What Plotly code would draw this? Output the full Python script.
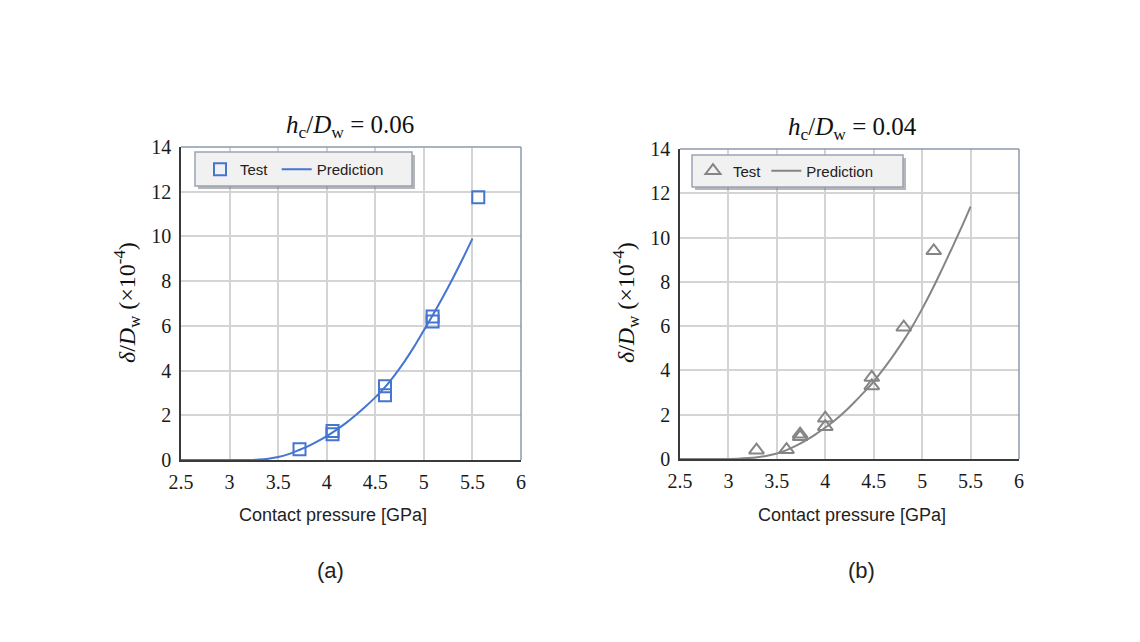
import plotly.graph_objects as go

# ---------------- data ----------------
# (a) h_c/D_w = 0.06
test_a_x = [3.72, 4.06, 4.06, 4.60, 4.60, 5.09, 5.09, 5.56]
test_a_y = [0.48, 1.15, 1.30, 2.90, 3.30, 6.20, 6.42, 11.75]
pred_a_x = [2.5, 2.6, 2.7, 2.8, 2.9, 3.0, 3.1, 3.2, 3.3, 3.4, 3.5, 3.6, 3.7, 3.8, 3.9,
            4.0, 4.1, 4.2, 4.3, 4.4, 4.5, 4.6, 4.7, 4.8, 4.9, 5.0, 5.1, 5.2, 5.3, 5.4, 5.5]
pred_a_y = [0, 0, 0, 0, 0, 0, 0, 0.0, 0.02, 0.06, 0.13, 0.25, 0.42, 0.60, 0.82,
            1.07, 1.35, 1.66, 2.01, 2.39, 2.80, 3.26, 3.80, 4.40, 5.07, 5.80, 6.54, 7.32, 8.14, 9.00, 9.90]

# (b) h_c/D_w = 0.04
test_b_x = [3.29, 3.60, 3.74, 3.74, 4.00, 4.00, 4.48, 4.48, 4.81, 5.12]
test_b_y = [0.40, 0.42, 1.00, 1.12, 1.46, 1.84, 3.30, 3.68, 5.95, 9.40]
pred_b_x = [2.5, 2.6, 2.7, 2.8, 2.9, 3.0, 3.1, 3.2, 3.3, 3.4, 3.5, 3.6, 3.7, 3.8, 3.9,
            4.0, 4.1, 4.2, 4.3, 4.4, 4.5, 4.6, 4.7, 4.8, 4.9, 5.0, 5.1, 5.2, 5.3, 5.4, 5.5]
pred_b_y = [0, 0, 0, 0, 0, 0.005, 0.015, 0.04, 0.08, 0.15, 0.25, 0.40, 0.60, 0.84, 1.11,
            1.42, 1.75, 2.13, 2.56, 3.02, 3.50, 4.06, 4.66, 5.30, 6.00, 6.78, 7.62, 8.52, 9.45, 10.40, 11.40]

x_ticks = [2.5, 3, 3.5, 4, 4.5, 5, 5.5, 6]
y_ticks = [0, 2, 4, 6, 8, 10, 12, 14]

BLUE = "#4475d0"
GRAY = "#858585"
W, H = 1140, 642
OFF = 8  # page body margin offset

def px(x):
    return (x - OFF) / W

def py(y):
    return 1 - (y - OFF) / H

fig = go.Figure()

fig.add_trace(go.Scatter(x=test_a_x, y=test_a_y, mode="markers", name="Test\u00a0",
                         marker=dict(symbol="square-open", size=12, color=BLUE, line=dict(width=2, color=BLUE)),
                         xaxis="x", yaxis="y", legend="legend", cliponaxis=False))
fig.add_trace(go.Scatter(x=pred_a_x, y=pred_a_y, mode="lines", name="Prediction",
                         line=dict(color=BLUE, width=2, shape="spline"),
                         xaxis="x", yaxis="y", legend="legend"))
fig.add_trace(go.Scatter(x=test_b_x, y=test_b_y, mode="markers", name="Test",
                         marker=dict(symbol="triangle-up-open", size=13, color=GRAY, line=dict(width=2, color=GRAY)),
                         xaxis="x2", yaxis="y2", legend="legend2", cliponaxis=False))
fig.add_trace(go.Scatter(x=pred_b_x, y=pred_b_y, mode="lines", name="Prediction",
                         line=dict(color=GRAY, width=2, shape="spline"),
                         xaxis="x2", yaxis="y2", legend="legend2"))

tickfont = dict(family="Liberation Serif", size=20, color="#1a1a1a")
axis_common = dict(showgrid=True, gridcolor="#d4d4d4", gridwidth=1.5, zeroline=False,
                   showline=True, linecolor="#3a3a3a", linewidth=1.5, ticks="",
                   tickfont=tickfont, automargin=False)

legend_common = dict(xanchor="left", yanchor="middle", orientation="h",
                     bgcolor="rgba(0,0,0,0)", borderwidth=0,
                     font=dict(family="Liberation Sans", size=15, color="#222"),
                     itemwidth=30, valign="middle")

fig.update_layout(
    width=W, height=H,
    margin=dict(l=0, r=0, t=0, b=0, autoexpand=False),
    paper_bgcolor="white", plot_bgcolor="white",
    xaxis=dict(domain=[px(181), px(521)], range=[2.5, 6], tickvals=x_ticks,
               ticktext=[str(v) for v in x_ticks], anchor="y", ticklabelstandoff=3, **axis_common),
    yaxis=dict(domain=[py(460), py(147)], range=[0, 14], tickvals=y_ticks, anchor="x",
               ticklabelstandoff=4, **axis_common),
    xaxis2=dict(domain=[px(680), px(1019)], range=[2.5, 6], tickvals=x_ticks,
                ticktext=[str(v) for v in x_ticks], anchor="y2", ticklabelstandoff=3, **axis_common),
    yaxis2=dict(domain=[py(459), py(149)], range=[0, 14], tickvals=y_ticks, anchor="x2",
                ticklabelstandoff=4, **axis_common),
    legend=dict(x=px(200), y=py(169.5), **legend_common),
    legend2=dict(x=px(693), y=py(171), **legend_common),
    showlegend=True,
)

shapes = []
# legend boxes with drop shadows
for (x0, x1, y0, y1) in [(195, 412, 152, 186), (692, 903, 155, 187)]:
    shapes.append(dict(type="rect", xref="paper", yref="paper", layer="above",
                       x0=px(x0 + 3), x1=px(x1 + 3), y0=py(y0 + 3), y1=py(y1 + 3),
                       fillcolor="rgba(110,110,110,0.5)", line=dict(width=0)))
    shapes.append(dict(type="rect", xref="paper", yref="paper", layer="above",
                       x0=px(x0), x1=px(x1), y0=py(y0), y1=py(y1),
                       fillcolor="#f1f1f1", line=dict(color="#9aa3b5", width=1.5)))
# top/right frame lines
for (x0, x1, y0, y1) in [(181, 521, 147, 460), (680, 1019, 149, 459)]:
    shapes.append(dict(type="line", xref="paper", yref="paper", x0=px(x0), x1=px(x1), y0=py(y0), y1=py(y0),
                       line=dict(color="#8d99ad", width=1.5)))
    shapes.append(dict(type="line", xref="paper", yref="paper", x0=px(x1), x1=px(x1), y0=py(y0), y1=py(y1),
                       line=dict(color="#8d99ad", width=1.5)))
fig.update_layout(shapes=shapes)

serif = "Liberation Serif"
sans = "Liberation Sans"
ann = []
ann.append(dict(text="<i>h</i><sub>c</sub>/<i>D</i><sub>w</sub> = 0.06", x=px(350), y=py(127),
                font=dict(family=serif, size=25, color="#111")))
ann.append(dict(text="<i>h</i><sub>c</sub>/<i>D</i><sub>w</sub> = 0.04", x=px(852), y=py(129),
                font=dict(family=serif, size=25, color="#111")))
ann.append(dict(text="<i>δ</i>/<i>D</i><sub>w</sub> (×10<sup>-4</sup>)", x=px(127), y=py(303), textangle=-90,
                font=dict(family=serif, size=24, color="#111")))
ann.append(dict(text="<i>δ</i>/<i>D</i><sub>w</sub> (×10<sup>-4</sup>)", x=px(626), y=py(303), textangle=-90,
                font=dict(family=serif, size=24, color="#111")))
ann.append(dict(text="Contact pressure [GPa]", x=px(333), y=py(515),
                font=dict(family=sans, size=18, color="#222")))
ann.append(dict(text="Contact pressure [GPa]", x=px(852), y=py(515),
                font=dict(family=sans, size=18, color="#222")))
ann.append(dict(text="(a)", x=px(330), y=py(570), font=dict(family=sans, size=22, color="#222")))
ann.append(dict(text="(b)", x=px(861), y=py(570), font=dict(family=sans, size=22, color="#222")))
for a in ann:
    a.update(xref="paper", yref="paper", showarrow=False, xanchor="center", yanchor="middle")
fig.update_layout(annotations=ann)

fig.write_html("out.html")
